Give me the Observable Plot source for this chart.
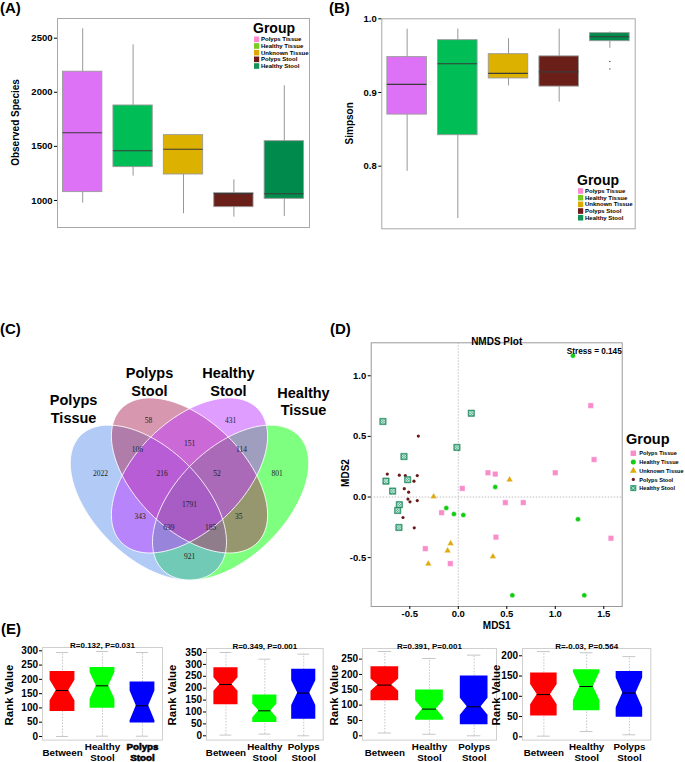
<!DOCTYPE html>
<html><head><meta charset="utf-8">
<script src="https://cdn.jsdelivr.net/npm/d3@7"></script>
<script src="https://cdn.jsdelivr.net/npm/@observablehq/plot@0.6"></script>
<style>
body{margin:0;background:#fff}
#fig{position:relative;width:685px;height:762px;background:#fff;overflow:hidden}
</style></head><body><div id="fig"></div>
<script>
// ---------------- DATA ----------------
const groups = ["Polyps Tissue","Healthy Tissue","Unknown Tissue","Polyps Stool","Healthy Stool"];
// (A) Observed species box stats
const obsMin = [975, 1225, 877, 846, 852];
const obsQ1  = [1077, 1308, 1240, 938, 1015];
const obsMed = [1626, 1459, 1474, 1063, 1062];
const obsQ3  = [2190, 1878, 1604, 1067, 1548];
const obsMax = [2587, 2439, 1604, 1191, 2060];
const obsTicks = [1000, 1500, 2000, 2500];
// (B) Simpson box stats
const simMin = [0.793, 0.729, 0.909, 0.887, 0.960];
const simQ1  = [0.870, 0.842, 0.919, 0.908, 0.9696];
const simMed = [0.911, 0.939, 0.926, 0.928, 0.9756];
const simQ3  = [0.948, 0.971, 0.952, 0.949, 0.9805];
const simMax = [0.986, 0.986, 0.973, 0.986, 0.9823];
const simOutGroup = ["Healthy Stool", "Healthy Stool"];
const simOutVal = [0.942, 0.932];
const simTicks = [0.8, 0.9, 1.0];
// (C) Venn
const vennSets = ["Polyps Tissue", "Polyps Stool", "Healthy Stool", "Healthy Tissue"];
const vennCounts = [58, 431, 106, 151, 114, 2022, 216, 52, 801, 1791, 343, 35, 639, 185, 921];
// (D) NMDS
const ptX = [1.366, 1.40, 1.00, 0.381, 0.306, 0.041, 0.485, 0.670, 1.574, 0.388, -0.172, -0.340, -0.082];
const ptY = [0.754, 0.309, 0.200, 0.189, 0.200, 0.071, -0.046, -0.046, -0.340, -0.331, -0.129, -0.426, -0.549];
const htX = [1.182, 0.381, -0.124, -0.045, 0.052, 1.234, 0.557, 1.299];
const htY = [1.166, 0.083, -0.091, -0.140, -0.149, -0.183, -0.811, -0.811];
const utX = [-0.254, 0.529, -0.079, -0.110, 0.357, -0.309];
const utY = [0.003, 0.143, -0.383, -0.443, -0.491, -0.551];
const psX = [-0.412, -0.732, -0.608, -0.546, -0.423, -0.457, -0.557, -0.512, -0.519, -0.498, -0.423, -0.570, -0.454];
const psY = [0.503, 0.189, 0.180, 0.177, 0.177, 0.131, 0.069, 0.040, -0.017, -0.040, -0.029, -0.169, -0.254];
const hsX = [-0.777, 0.134, -0.014, -0.560, -0.746, -0.522, -0.677, -0.608, -0.625, -0.612];
const hsY = [0.623, 0.691, 0.409, 0.334, 0.131, 0.143, 0.049, -0.063, -0.111, -0.251];
const mdsXTicks = [-0.5, 0, 0.5, 1.0, 1.5];
const mdsYTicks = [-0.5, 0, 0.5, 1.0];
const stressText = "Stress = 0.145";
// (E) ANOSIM rank boxes
const eGroups = ["Between", "Healthy Stool", "Polyps Stool"];
const anosimTitles = ["R=0.132, P=0.031", "R=0.349, P=0.001", "R=0.391, P=0.001", "R=-0.03, P=0.564"];
const e1Min = [0, 1, 1],   e1Q1 = [87.5, 99, 47],  e1Med = [161, 177.5, 107.5], e1Q3 = [227.6, 241.6, 190.5], e1Max = [294, 297.6, 294], e1Notch = [36, 47, 52];
const e2Min = [3, 7, 0],   e2Q1 = [130, 56, 70],   e2Med = [215.5, 105, 179.4], e2Q3 = [285.7, 171, 280],   e2Max = [350, 322, 343],   e2Notch = [28, 29, 52];
const e3Min = [9, 5, 0],   e3Q1 = [114, 51, 36],   e3Med = [165.3, 87, 94.6],   e3Q3 = [225, 149, 194.6],   e3Max = [275, 252, 263],   e3Notch = [20, 27, 28];
const e4Min = [1.6, 13, 5], e4Q1 = [51.6, 64.2, 48.6], e4Med = [104.2, 124.2, 108], e4Q3 = [157.8, 165.4, 161.2], e4Max = [210.4, 207.4, 198], e4Notch = [25, 35, 37];
const e1Ticks = [0, 50, 100, 150, 200, 250, 300];
const e2Ticks = [0, 50, 100, 150, 200, 250, 300, 350];
const e3Ticks = [0, 50, 100, 150, 200, 250];
const e4Ticks = [0, 50, 100, 150, 200];

// ---------------- STYLE ----------------
const FONT = '"Liberation Sans", Arial, Helvetica, sans-serif';
const boxFill = ["#DD72F6", "#00BD56", "#DDB100", "#6A1F19", "#008B4C"];
const legFill = ["#FF8AD0", "#78CC22", "#DDA800", "#6B1A18", "#11935A"];
const vennFill = {"Polyps Tissue": "#6495ED", "Polyps Stool": "#B03060", "Healthy Stool": "#BF3EFF", "Healthy Tissue": "#00FF00"};
const vennOrder = ["Healthy Tissue", "Polyps Tissue", "Polyps Stool", "Healthy Stool"];
const eFill = ["#FF0000", "#00FF00", "#0000FF"];
const mdsCol = {pt: "#F98CCB", ht: "#12CC12", ut: "#DDAA11", ps: "#6A1A1A", hs: "#2E9E72"};

const fig = document.getElementById("fig");
function place(svg, left, top) {
  svg.style.position = "absolute";
  svg.style.left = left + "px";
  svg.style.top = top + "px";
  fig.appendChild(svg);
}
const baseStyle = {background: "transparent", fontFamily: FONT, fontWeight: "bold", fontSize: "9.5px", color: "black", overflow: "visible"};
const yTitles = []; // rotated axis titles, drawn in the overlay: [text, cx, cy, size]

// ---------------- (A) & (B) box panels ----------------
function boxPanel(o) {
  const rows = groups.map((g, k) => ({g, i: k + 1, min: o.min[k], q1: o.q1[k], med: o.med[k], q3: o.q3[k], max: o.max[k], fill: boxFill[k]}));
  const w = 0.39;
  const [fl, ft, fr, fb] = o.frame, [sl, st, W, H] = o.svg;
  const outs = (o.outG || []).map((g, k) => ({i: groups.indexOf(g) + 1, v: o.outV[k]}));
  const p = Plot.plot({
    width: W, height: H,
    marginLeft: fl - sl, marginTop: ft - st, marginRight: sl + W - fr, marginBottom: st + H - fb,
    x: {domain: [0.5, 5.5], axis: null},
    y: {domain: o.yDomain},
    color: {type: "identity"},
    style: baseStyle,
    marks: [
      Plot.frame({stroke: "#a8a8a8", strokeWidth: 1}),
      Plot.ruleX(rows, {x: "i", y1: "min", y2: "max", stroke: "#8c8c8c", strokeWidth: 0.9}),
      Plot.rect(rows, {x1: d => d.i - w, x2: d => d.i + w, y1: "q1", y2: "q3", fill: "fill", stroke: "#9a9a9a", strokeWidth: 0.9}),
      Plot.ruleY(rows, {x1: d => d.i - w, x2: d => d.i + w, y: "med", stroke: "#3a3a3a", strokeWidth: 1.1}),
      Plot.dot(outs, {x: "i", y: "v", r: 0.7, fill: "#444", stroke: "none"}),
      Plot.axisY({ticks: o.ticks, tickFormat: o.fmt, tickSize: 3, tickPadding: 2, fontSize: 9.5, fontWeight: "bold", label: null})
    ]
  });
  place(p, sl, st);
  yTitles.push([o.ylabel, o.ylabX, (ft + fb) / 2, 10]);
}
boxPanel({min: obsMin, q1: obsQ1, med: obsMed, q3: obsQ3, max: obsMax, ticks: obsTicks, fmt: d => String(d),
  yDomain: [750, 2682], frame: [57, 18, 309, 227], svg: [0, 0, 340, 250], ylabel: "Observed Species", ylabX: 15});
boxPanel({min: simMin, q1: simQ1, med: simMed, q3: simQ3, max: simMax, ticks: simTicks, fmt: d => d.toFixed(1),
  outG: simOutGroup, outV: simOutVal,
  yDomain: [0.715, 1.0], frame: [381.3, 18.3, 634.7, 228.3], svg: [340, 0, 345, 250], ylabel: "Simpson", ylabX: 349});

// ---------------- (C) Venn ----------------
// standard 4-set layout (unit square): ellipse geometry and region anchors
const vennShape = {
  "Polyps Tissue":  {cx: 0.35, cy: 0.47, a: 0.35, b: 0.2, ang: 135},
  "Polyps Stool":   {cx: 0.50, cy: 0.57, a: 0.35, b: 0.2, ang: 135},
  "Healthy Stool":  {cx: 0.50, cy: 0.57, a: 0.35, b: 0.2, ang: 45},
  "Healthy Tissue": {cx: 0.65, cy: 0.47, a: 0.35, b: 0.2, ang: 45}
};
const regionAnchor = [[0.35,0.77],[0.65,0.77],[0.31,0.665],[0.5,0.686],[0.69,0.665],[0.175,0.576],[0.40,0.576],[0.60,0.576],[0.82,0.576],[0.5,0.463],[0.32,0.417],[0.68,0.417],[0.425,0.38],[0.577,0.38],[0.5,0.273]];
const setLabelAnchor = [[0.077,0.816],[0.354,0.915],[0.642,0.915],[0.916,0.844]];
function ellipsePts(name) {
  const s = vennShape[name], phi = s.ang * Math.PI / 180;
  return d3.range(0, 360, 3).map(t => {
    const th = t * Math.PI / 180;
    return {set: name,
      x: s.cx + s.a * Math.cos(th) * Math.cos(phi) - s.b * Math.sin(th) * Math.sin(phi),
      y: s.cy + s.a * Math.cos(th) * Math.sin(phi) + s.b * Math.sin(th) * Math.cos(phi)};
  });
}
{
  const fills = vennOrder.map(n => Plot.line(ellipsePts(n), {x: "x", y: "y", fill: vennFill[n], fillOpacity: 0.5, stroke: "none", curve: "linear-closed"}));
  const outlines = vennOrder.map(n => Plot.line(ellipsePts(n), {x: "x", y: "y", fill: "none", stroke: "white", strokeOpacity: 0.85, strokeWidth: 1, curve: "linear-closed"}));
  const counts = vennCounts.map((c, k) => ({c, x: regionAnchor[k][0], y: regionAnchor[k][1]}));
  const setLabs = vennSets.map((s, k) => ({s: s.replace(" ", "\n"), x: setLabelAnchor[k][0], y: setLabelAnchor[k][1]}));
  const p = Plot.plot({
    width: 340, height: 290,
    x: {domain: [0, 1], range: [52, 326], axis: null},
    y: {domain: [0, 1], range: [320, 48], axis: null},
    style: baseStyle,
    marks: [
      ...fills, ...outlines,
      Plot.text(counts, {x: "x", y: "y", text: d => String(d.c), fontFamily: '"Liberation Serif", "Times New Roman", serif', fontWeight: "normal", fontSize: 7.5, fill: "#222"}),
      Plot.text(setLabs, {x: "x", y: "y", text: "s", fontSize: 14.5, fontWeight: "bold", lineHeight: 1.2})
    ]
  });
  place(p, 0, 310);
}

// ---------------- (D) NMDS ----------------
{
  const pts = (xs, ys) => xs.map((x, k) => ({x, y: ys[k]}));
  const PT = pts(ptX, ptY), HT = pts(htX, htY), UT = pts(utX, utY), PS = pts(psX, psY), HS = pts(hsX, hsY);
  const p = Plot.plot({
    width: 345, height: 320,
    marginLeft: 30.7, marginTop: 32.3, marginRight: 63.3, marginBottom: 24,
    x: {domain: [-0.898, 1.69]},
    y: {domain: [-0.903, 1.272]},
    style: baseStyle,
    marks: [
      Plot.frame({stroke: "#999", strokeWidth: 1}),
      Plot.ruleX([0], {stroke: "#b0b0b0", strokeDasharray: "1.5,1.5", strokeWidth: 0.8}),
      Plot.ruleY([0], {stroke: "#b0b0b0", strokeDasharray: "1.5,1.5", strokeWidth: 0.8}),
      Plot.dot(PT, {x: "x", y: "y", symbol: "square", r: 3.1, fill: mdsCol.pt, stroke: "white", strokeWidth: 0.4}),
      Plot.dot(HT, {x: "x", y: "y", symbol: "circle", r: 2.5, fill: mdsCol.ht, stroke: "white", strokeWidth: 0.4}),
      Plot.dot(UT, {x: "x", y: "y", symbol: "triangle", r: 2.5, fill: mdsCol.ut, stroke: "white", strokeWidth: 0.4}),
      Plot.dot(PS, {x: "x", y: "y", symbol: "circle", r: 1.6, fill: mdsCol.ps, stroke: "none"}),
      Plot.dot(HS, {x: "x", y: "y", symbol: "square", r: 3.6, fill: mdsCol.hs, stroke: "#1f7a55", strokeWidth: 0.5}),
      Plot.dot(HS, {x: "x", y: "y", symbol: "times", r: 1.9, stroke: "white", strokeWidth: 0.7}),
      Plot.dot(HS, {x: "x", y: "y", symbol: "circle", r: 1.9, fill: "none", stroke: "white", strokeWidth: 0.6}),
      Plot.axisX({ticks: mdsXTicks, tickFormat: d => d.toFixed(1), tickSize: 3, tickPadding: 1, fontSize: 9.5, fontWeight: "bold", label: null}),
      Plot.axisY({ticks: mdsYTicks, tickFormat: d => d.toFixed(1), tickSize: 3, tickPadding: 2, fontSize: 9.5, fontWeight: "bold", label: null}),
      Plot.text(["NMDS Plot"], {text: d => d, frameAnchor: "top", dy: -5, fontSize: 10, fontWeight: "bold"}),
      Plot.text([stressText], {text: d => d, frameAnchor: "top-right", textAnchor: "end", dx: -0.5, dy: 5, fontSize: 8.2, fontWeight: "bold"}),
      Plot.text(["MDS1"], {text: d => d, frameAnchor: "bottom", dy: 22, fontSize: 10, fontWeight: "bold"})
    ]
  });
  place(p, 340, 310);
  yTitles.push(["MDS2", 345.5, 473, 10]);
}

// ---------------- (E) ANOSIM notched boxes ----------------
function notchPanel(o) {
  const rows = eGroups.map((g, k) => ({g, i: k + 1, min: o.min[k], q1: o.q1[k], med: o.med[k], q3: o.q3[k], max: o.max[k], n: o.notch[k], fill: eFill[k]}));
  const w = 0.31, cw = 0.15;
  const poly = rows.flatMap(d => [
    {g: d.g, fill: d.fill, y: d.q1, x1: d.i - w, x2: d.i + w},
    {g: d.g, fill: d.fill, y: d.med - d.n, x1: d.i - w, x2: d.i + w},
    {g: d.g, fill: d.fill, y: d.med, x1: d.i - w / 2, x2: d.i + w / 2},
    {g: d.g, fill: d.fill, y: d.med + d.n, x1: d.i - w, x2: d.i + w},
    {g: d.g, fill: d.fill, y: d.q3, x1: d.i - w, x2: d.i + w}
  ]);
  const [fl, ft, fr, fb] = o.frame;
  const ml = 46, mt = 14, mr = 6, mb = 24;
  const W = fr - fl + ml + mr, H = fb - ft + mt + mb;
  const p = Plot.plot({
    width: W, height: H, marginLeft: ml, marginTop: mt, marginRight: mr, marginBottom: mb,
    x: {domain: [0.5, 3.5], axis: null},
    y: {domain: o.yDomain},
    color: {type: "identity"},
    style: baseStyle,
    marks: [
      Plot.frame({stroke: "#cfcfcf", strokeWidth: 1}),
      Plot.ruleX(rows, {x: "i", y1: "min", y2: "max", stroke: "#b8b8b8", strokeDasharray: "1.5,1.5", strokeWidth: 0.8}),
      Plot.ruleY(rows, {x1: d => d.i - cw, x2: d => d.i + cw, y: "min", stroke: "#b8b8b8", strokeWidth: 0.8}),
      Plot.ruleY(rows, {x1: d => d.i - cw, x2: d => d.i + cw, y: "max", stroke: "#b8b8b8", strokeWidth: 0.8}),
      Plot.areaX(poly, {y: "y", x1: "x1", x2: "x2", z: "g", fill: "fill", curve: "linear"}),
      Plot.ruleY(rows, {x1: d => d.i - w / 2, x2: d => d.i + w / 2, y: "med", stroke: "black", strokeWidth: 1}),
      Plot.axisY({ticks: o.ticks, tickFormat: d => String(d), tickSize: 3, tickPadding: 1.5, fontSize: 10, fontWeight: "bold", label: null}),
      Plot.text(rows, {x: "i", frameAnchor: "bottom", dy: 12.2, text: d => d.g.replace(" ", "\n"), lineAnchor: "middle", lineHeight: 1.12, fontSize: 9.8, fontWeight: "bold"}),
      Plot.text(rows.filter(d => o.heavy && d.i === 3), {x: "i", frameAnchor: "bottom", dy: 12.2, text: d => d.g.replace(" ", "\n"), lineAnchor: "middle", lineHeight: 1.12, fontSize: 9.8, fontWeight: "bold", stroke: "black", strokeWidth: 0.6}),
      Plot.text([o.title], {text: d => d, frameAnchor: "top", dy: -5, fontSize: 8, fontWeight: "bold"})
    ]
  });
  place(p, fl - ml, ft - mt);
  yTitles.push(["Rank Value", o.ylabX, 695, 11.4]);
}
notchPanel({min: e1Min, q1: e1Q1, med: e1Med, q3: e1Q3, max: e1Max, notch: e1Notch, ticks: e1Ticks, yDomain: [-12.6, 311.6],
  frame: [41.7, 646.7, 161.7, 739.3], title: anosimTitles[0], ylabX: 8.5, heavy: true});
notchPanel({min: e2Min, q1: e2Q1, med: e2Med, q3: e2Q3, max: e2Max, notch: e2Notch, ticks: e2Ticks, yDomain: [-18, 366.8],
  frame: [206, 647.7, 322.7, 739.3], title: anosimTitles[1], ylabX: 172});
notchPanel({min: e3Min, q1: e3Q1, med: e3Med, q3: e3Q3, max: e3Max, notch: e3Notch, ticks: e3Ticks, yDomain: [-14, 284.6],
  frame: [361.7, 647.7, 495.7, 739.3], title: anosimTitles[2], ylabX: 333.5});
notchPanel({min: e4Min, q1: e4Q1, med: e4Med, q3: e4Q3, max: e4Max, notch: e4Notch, ticks: e4Ticks, yDomain: [-8.1, 218],
  frame: [521.7, 647.7, 650, 739.3], title: anosimTitles[3], ylabX: 495.5});

// ---------------- overlay: panel labels, axis titles & legends ----------------
{
  const ov = d3.create("svg").attr("width", 685).attr("height", 762)
    .style("position", "absolute").style("left", "0px").style("top", "0px")
    .style("pointer-events", "none").attr("font-family", FONT).attr("font-weight", "bold");
  [["(A)", 0, 13], ["(B)", 329, 13], ["(C)", 0, 334], ["(D)", 330, 334], ["(E)", 1, 634]].forEach(([t, x, y]) =>
    ov.append("text").attr("x", x).attr("y", y).attr("font-size", 15).text(t));
  yTitles.forEach(([t, cx, cy, fs]) =>
    ov.append("text").attr("transform", `translate(${cx},${cy}) rotate(-90)`).attr("text-anchor", "middle")
      .attr("dominant-baseline", "central").attr("font-size", fs).text(t));
  function boxLegend(x, titleY, y0, step) {
    ov.append("text").attr("x", x - 1).attr("y", titleY).attr("font-size", 14).text("Group");
    groups.forEach((g, k) => {
      const cy = y0 + k * step;
      ov.append("rect").attr("x", x).attr("y", cy - 2.8).attr("width", 5.2).attr("height", 5.6).attr("fill", legFill[k]);
      ov.append("text").attr("x", x + 7).attr("y", cy + 2.1).attr("font-size", 6).text(g);
    });
  }
  boxLegend(254, 32.7, 39.3, 6.68);
  boxLegend(578, 184.5, 191, 6.68);
  // NMDS legend
  ov.append("text").attr("x", 626).attr("y", 444).attr("font-size", 14.5).text("Group");
  const sym = [
    {t: "Polyps Tissue", s: d3.symbolSquare, r: 3.1, c: mdsCol.pt},
    {t: "Healthy Tissue", s: d3.symbolCircle, r: 2.5, c: mdsCol.ht},
    {t: "Unknown Tissue", s: d3.symbolTriangle, r: 2.5, c: mdsCol.ut},
    {t: "Polyps Stool", s: d3.symbolCircle, r: 1.6, c: mdsCol.ps},
    {t: "Healthy Stool", s: d3.symbolSquare, r: 3.4, c: mdsCol.hs}
  ];
  sym.forEach((d, k) => {
    const cy = 453.3 + k * 8.7, cx = 633.3;
    ov.append("path").attr("transform", `translate(${cx},${cy})`).attr("d", d3.symbol(d.s, Math.PI * d.r * d.r)()).attr("fill", d.c);
    if (k === 4) {
      ov.append("path").attr("transform", `translate(${cx},${cy})`).attr("d", d3.symbol(d3.symbolTimes, Math.PI * 3)()).attr("stroke", "white").attr("stroke-width", 0.7).attr("fill", "none");
    }
    ov.append("text").attr("x", 639.3).attr("y", cy + 2.1).attr("font-size", 5.6).text(d.t);
  });
  fig.appendChild(ov.node());
}
</script></body></html>
